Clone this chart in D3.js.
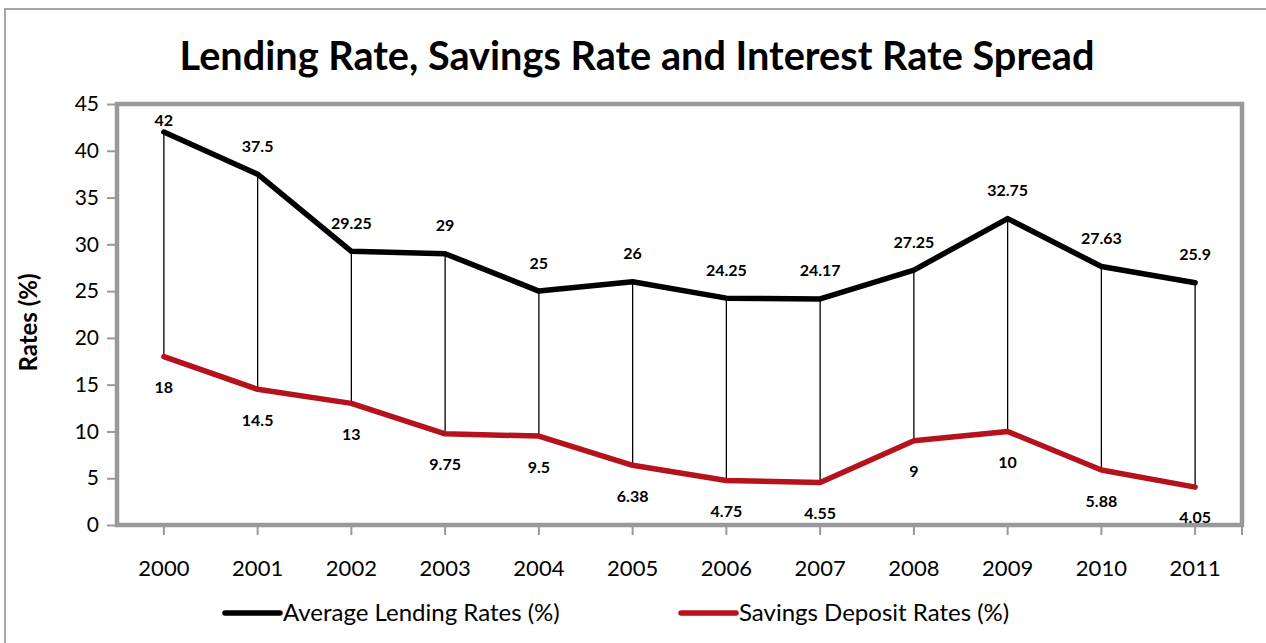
<!DOCTYPE html>
<html>
<head>
<meta charset="utf-8">
<script src="https://cdn.jsdelivr.net/npm/d3@7"></script>
<style>
  html, body { margin: 0; padding: 0; background: #fff; }
  svg { display: block; font-family: Lato, "Open Sans", sans-serif; }
</style>
</head>
<body>
<svg id="chart" width="1266" height="643"></svg>
<script>
const years = ["2000","2001","2002","2003","2004","2005","2006","2007","2008","2009","2010","2011"];
const lendingRates = [42, 37.5, 29.25, 29, 25, 26, 24.25, 24.17, 27.25, 32.75, 27.63, 25.9];
const savingsRates = [18, 14.5, 13, 9.75, 9.5, 6.38, 4.75, 4.55, 9, 10, 5.88, 4.05];
const yTicks = [0, 5, 10, 15, 20, 25, 30, 35, 40, 45];
const seriesNames = ["Average Lending Rates (%)", "Savings Deposit Rates (%)"];
const seriesColors = ["#000000", "#b5121b"];
const titleText = "Lending Rate, Savings Rate and Interest Rate Spread";
const yAxisTitle = "Rates (%)";

const svg = d3.select("#chart");
const W = 1266, H = 643;
const plot = { left: 117, right: 1242, top: 104, bottom: 525 };

function fitWidth(sel, target, base, maxSize) {
  const w = sel.node().getComputedTextLength();
  sel.attr("font-size", Math.min(maxSize, base * target / w));
}

// outer frame
svg.append("rect").attr("x", 5).attr("y", 9).attr("width", W + 20).attr("height", H + 20)
  .attr("fill", "none").attr("stroke", "#a6a6a6").attr("stroke-width", 2);

const x = d3.scaleBand().domain(years).range([plot.left, plot.right]);
const y = d3.scaleLinear().domain([0, 45]).range([plot.bottom, plot.top]);
const cx = d => x(d) + x.bandwidth() / 2;

// title
const title = svg.append("text").attr("x", 637).attr("y", 70).attr("text-anchor", "middle")
  .attr("font-weight", "bold").attr("font-size", 36).attr("fill", "#000").text(titleText);
fitWidth(title, 915, 36, 40);

// plot border
svg.append("rect").attr("x", plot.left).attr("y", plot.top)
  .attr("width", plot.right - plot.left).attr("height", plot.bottom - plot.top)
  .attr("fill", "none").attr("stroke", "#999999").attr("stroke-width", 4.5);

// y axis
const yAxis = d3.axisLeft(y).tickValues(yTicks).tickSize(8).tickPadding(8);
const gy = svg.append("g").attr("transform", `translate(${plot.left - 2},0)`).call(yAxis);
gy.select(".domain").remove();
gy.selectAll(".tick line").attr("stroke", "#999999").attr("stroke-width", 2);
gy.selectAll(".tick text").attr("font-size", 21).attr("fill", "#000")
  .attr("font-family", "Lato, sans-serif");

// x axis
const xAxis = d3.axisBottom(x).tickSize(8).tickPadding(25);
const gx = svg.append("g").attr("transform", `translate(0,${plot.bottom + 2})`).call(xAxis);
gx.select(".domain").remove();
gx.selectAll(".tick line").attr("stroke", "#999999").attr("stroke-width", 2);
gx.selectAll(".tick text").attr("font-size", 22).attr("fill", "#000")
  .attr("font-family", "Lato, sans-serif");
gx.append("line").attr("x1", plot.right).attr("x2", plot.right).attr("y1", 0).attr("y2", 8)
  .attr("stroke", "#999999").attr("stroke-width", 2);

// y axis title
const yt = svg.append("text").attr("transform", `translate(29,${(plot.top + plot.bottom) / 2 + 8}) rotate(-90)`)
  .attr("text-anchor", "middle").attr("dy", "0.35em").attr("font-weight", "bold").attr("font-size", 20)
  .attr("fill", "#000").text(yAxisTitle);
fitWidth(yt, 100, 20, 24);

// high-low drop lines
svg.append("g").selectAll("line").data(years).join("line")
  .attr("x1", d => cx(d)).attr("x2", d => cx(d))
  .attr("y1", (d, i) => y(lendingRates[i])).attr("y2", (d, i) => y(savingsRates[i]))
  .attr("stroke", "#000").attr("stroke-width", 1.3);

// lines
const line = d3.line().x((v, i) => cx(years[i])).y(v => y(v)).curve(d3.curveLinear);
[lendingRates, savingsRates].forEach((arr, k) => {
  svg.append("path").datum(arr).attr("d", line)
    .attr("fill", "none").attr("stroke", seriesColors[k]).attr("stroke-width", 5.5)
    .attr("stroke-linejoin", "round").attr("stroke-linecap", "round");
});

// data labels
svg.append("g").selectAll("text").data(lendingRates).join("text")
  .attr("x", (v, i) => cx(years[i]))
  .attr("y", v => Math.max(y(v) - 28, plot.top + 16))
  .attr("dy", "0.35em").attr("text-anchor", "middle").attr("font-weight", "bold")
  .attr("font-size", 16).attr("fill", "#000").text(v => v);
svg.append("g").selectAll("text").data(savingsRates).join("text")
  .attr("x", (v, i) => cx(years[i]))
  .attr("y", v => Math.min(y(v) + 31, plot.bottom - 8))
  .attr("dy", "0.35em").attr("text-anchor", "middle").attr("font-weight", "bold")
  .attr("font-size", 16).attr("fill", "#000").text(v => v);

// legend
const legendItems = [
  { x1: 225, x2: 280, tx: 283, tw: 291 },
  { x1: 681, x2: 736, tx: 739, tw: 273 }
];
legendItems.forEach((it, k) => {
  svg.append("line").attr("x1", it.x1).attr("x2", it.x2).attr("y1", 613).attr("y2", 613)
    .attr("stroke", seriesColors[k]).attr("stroke-width", 5.5).attr("stroke-linecap", "round");
  const t = svg.append("text").attr("x", it.tx).attr("y", 613).attr("dy", "0.35em")
    .attr("font-size", 21).attr("fill", "#000").text(seriesNames[k]);
  fitWidth(t, it.tw, 21, 24);
});
</script>
</body>
</html>
